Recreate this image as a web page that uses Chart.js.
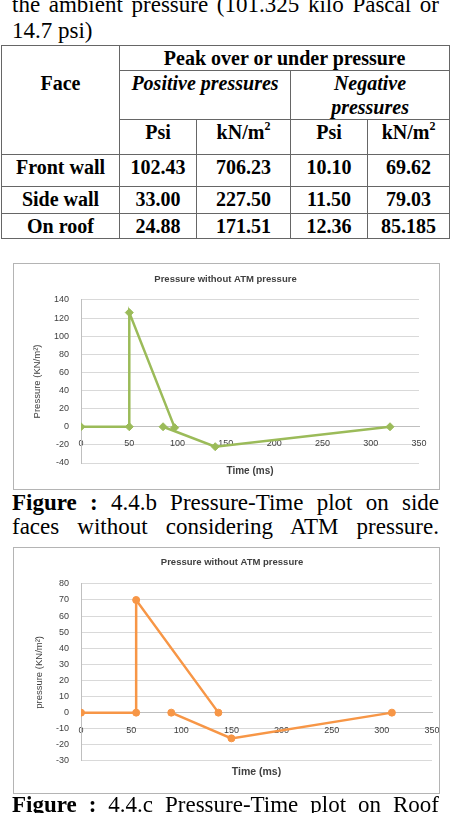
<!DOCTYPE html>
<html>
<head>
<meta charset="utf-8">
<script src="https://cdn.jsdelivr.net/npm/chart.js@4.4.1/dist/chart.umd.min.js"></script>
<style>
html,body{margin:0;padding:0;background:#fff;}
body{width:457px;height:813px;overflow:hidden;position:relative;font-family:"Liberation Serif","Times New Roman",serif;color:#000;}
.line{position:absolute;left:12px;width:427px;font-size:23px;line-height:25px;white-space:normal;}
.just{text-align:justify;text-align-last:justify;}
#tbl{position:absolute;left:1px;top:45px;width:448px;border-collapse:collapse;table-layout:fixed;font-size:20px;line-height:24px;}
#tbl td,#tbl th{border:1.5px solid #666;padding:0;vertical-align:top;text-align:center;font-weight:bold;}
#tbl sup{font-size:12px;line-height:0;vertical-align:9px;}
.box{position:absolute;left:13px;width:425px;border:1px solid #b4b4b4;background:#fff;}
.box canvas{display:block;}
</style>
</head>
<body>
<div class="line just" style="top:-8px;">the ambient pressure (101.325 kilo Pascal or</div>
<div class="line" style="top:18px;">14.7 psi)</div>

<table id="tbl">
<colgroup><col style="width:118px"><col style="width:77px"><col style="width:94px"><col style="width:77px"><col style="width:82px"></colgroup>
<tbody id="tbody"></tbody>
</table>

<div class="box" style="top:263px;height:225px;"><canvas id="c1" width="425" height="225"></canvas></div>
<div class="line just" style="top:490px;"><b>Figure :</b> 4.4.b Pressure-Time plot on side</div>
<div class="line just" style="top:514px;">faces without considering ATM pressure.</div>
<div class="box" style="top:547px;height:245px;"><canvas id="c2" width="425" height="245"></canvas></div>
<div class="line just" style="top:792px;"><b>Figure :</b> 4.4.c Pressure-Time plot on Roof</div>

<script>
// ---- table data ----
const faces = ['Front wall', 'Side wall', 'On roof'];
const posPsi = ['102.43', '33.00', '24.88'];
const posKn = ['706.23', '227.50', '171.51'];
const negPsi = ['10.10', '11.50', '12.36'];
const negKn = ['69.62', '79.03', '85.185'];
const headTop = 'Peak over or under pressure';
const headPos = 'Positive pressures';
const headNeg = ['Negative', 'pressures'];
const unitLabels = ['Psi', 'kN/m', 'Psi', 'kN/m'];

// ---- chart data ----
const timeTicks = [0, 50, 100, 150, 200, 250, 300, 350];
const sideTicks = [-40, -20, 0, 20, 40, 60, 80, 100, 120, 140];
const roofTicks = [-30, -20, -10, 0, 10, 20, 30, 40, 50, 60, 70, 80];
const sideTimeA = [0, 50, 50, 97];
const sidePressureA = [0, 0, 126, -1];
const sideTimeB = [85, 139, 320];
const sidePressureB = [0, -22, 0];
const roofTimeA = [0, 55, 55, 137];
const roofPressureA = [0, 0, 70, 0];
const roofTimeB = [90, 150, 310];
const roofPressureB = [0, -16, 0];
const chartTitle = 'Pressure without ATM pressure';
const xTitle = 'Time (ms)';
const sideYTitle = 'Pressure (KN/m\u00B2)';
const roofYTitle = 'pressure (KN/m\u00B2)';

// build table
(function(){
  const tb = document.getElementById('tbody');
  let h = '';
  h += '<tr style="height:24px"><th rowspan="3" style="padding-top:25px">Face</th><th colspan="4">' + headTop + '</th></tr>';
  h += '<tr style="height:47px"><th colspan="2"><i>' + headPos + '</i></th><th colspan="2"><i>' + headNeg.join('<br>') + '</i></th></tr>';
  h += '<tr style="height:35px">' + unitLabels.map(u => '<th>' + u + (u === 'kN/m' ? '<sup>2</sup>' : '') + '</th>').join('') + '</tr>';
  const hs = [32, 27, 24];
  faces.forEach((f, i) => {
    h += '<tr style="height:' + hs[i] + 'px"><td>' + f + '</td><td>' + posPsi[i] + '</td><td>' + posKn[i] + '</td><td>' + negPsi[i] + '</td><td>' + negKn[i] + '</td></tr>';
  });
  tb.innerHTML = h;
})();

function pts(xs, ys){ return xs.map((x, i) => ({x: x, y: ys[i]})); }

function makeChart(id, c){
  const tickFont = {family: 'Liberation Sans', size: 9};
  new Chart(document.getElementById(id), {
    type: 'scatter',
    data: {datasets: [
      {data: pts(c.ax, c.ay), showLine: true, borderColor: c.color, backgroundColor: c.color, borderWidth: 2.5, pointStyle: c.marker, pointRadius: c.radius, pointBorderWidth: 1, tension: 0},
      {data: pts(c.bx, c.by), showLine: true, borderColor: c.color, backgroundColor: c.color, borderWidth: 2.5, pointStyle: c.marker, pointRadius: c.radius, pointBorderWidth: 1, tension: 0}
    ]},
    options: {
      responsive: false, animation: false, devicePixelRatio: 1,
      layout: {padding: {left: 18, right: c.padRight, top: 0, bottom: 0}},
      plugins: {
        legend: {display: false},
        tooltip: {enabled: false},
        title: {display: true, text: chartTitle, color: '#404040', font: {family: 'Liberation Sans', size: 9.5, weight: 'bold'}, padding: {top: c.titleTop, bottom: c.titleBottom}}
      },
      scales: {
        x: {
          type: 'linear', position: {y: 0}, min: timeTicks[0], max: timeTicks[timeTicks.length - 1],
          afterBuildTicks: s => { s.ticks = timeTicks.map(v => ({value: v})); },
          afterFit: s => { s.paddingRight = 0; s.paddingLeft = 0; },
          ticks: {padding: c.xTickPad, color: '#404040', font: tickFont, maxRotation: 0, autoSkip: false},
          grid: {display: false, drawTicks: false},
          border: {display: true, color: '#bfbfbf', width: 1}
        },
        xt: {
          type: 'linear', position: 'bottom', min: timeTicks[0], max: timeTicks[timeTicks.length - 1],
          ticks: {display: false}, grid: {display: false, drawTicks: false}, border: {display: false},
          title: {display: true, text: xTitle, color: '#404040', font: {family: 'Liberation Sans', size: c.xTitleSize, weight: 'bold'}, padding: {top: c.xtTop, bottom: c.xtBottom}}
        },
        y: {
          type: 'linear', position: 'left', min: c.yTicks[0], max: c.yTicks[c.yTicks.length - 1],
          afterBuildTicks: s => { s.ticks = c.yTicks.map(v => ({value: v})); },
          afterFit: s => { s.width = 49; },
          ticks: {padding: 12, color: '#404040', font: tickFont, autoSkip: false},
          grid: {color: '#d9d9d9', lineWidth: 1, drawTicks: false},
          border: {display: true, color: '#bfbfbf', width: 1},
          title: {display: true, text: c.yTitle, color: '#404040', font: {family: 'Liberation Sans', size: 9.5}, padding: {top: c.ytPad, bottom: 0}}
        }
      }
    }
  });
}

makeChart('c1', {
  ax: sideTimeA, ay: sidePressureA, bx: sideTimeB, by: sidePressureB,
  color: '#9bbb59', marker: 'rectRot', radius: 4,
  yTicks: sideTicks, yTitle: sideYTitle,
  padRight: 20, titleTop: 10, titleBottom: 14.5, xTickPad: 11,
  xTitleSize: 10, xtTop: 2, xtBottom: 12, ytPad: 0
});
makeChart('c2', {
  ax: roofTimeA, ay: roofPressureA, bx: roofTimeB, by: roofPressureB,
  color: '#f79646', marker: 'circle', radius: 3.5,
  yTicks: roofTicks, yTitle: roofYTitle,
  padRight: 7, titleTop: 9, titleBottom: 15.5, xTickPad: 12,
  xTitleSize: 10.5, xtTop: 5, xtBottom: 14.5, ytPad: 2
});
</script>
</body>
</html>
